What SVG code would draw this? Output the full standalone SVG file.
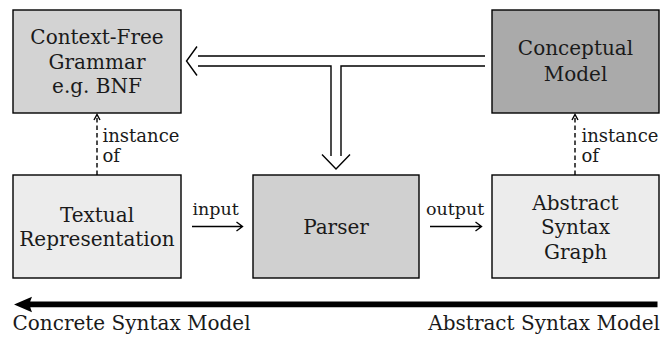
<svg xmlns="http://www.w3.org/2000/svg" width="672" height="337" viewBox="0 0 672 337">
<style>
.box{stroke:#000;stroke-width:1.4}
.t{font-family:"DejaVu Serif",serif;font-size:20px;text-anchor:middle;fill:#1a1a1a}
.s{font-family:"DejaVu Serif",serif;font-size:18px;fill:#1a1a1a}
.ln{fill:none;stroke:#000;stroke-width:1.4}
.dash{fill:none;stroke:#000;stroke-width:1.4;stroke-dasharray:4.5 3}
</style>
<rect width="672" height="337" fill="#fff"/>
<g id="cfg"><rect class="box" x="13" y="10" width="168" height="103" fill="#d3d3d3"/>
<text class="t" x="97" y="44">Context-Free</text><text class="t" x="97" y="68.5">Grammar</text><text class="t" x="97" y="93">e.g. BNF</text></g>
<g id="conceptual"><rect class="box" x="492" y="10" width="167" height="103" fill="#aaaaaa"/>
<text class="t" x="575.5" y="55">Conceptual</text><text class="t" x="575.5" y="80.5">Model</text></g>
<g id="textual"><rect class="box" x="13" y="175" width="168" height="103" fill="#ececec"/>
<text class="t" x="97" y="221.5">Textual</text><text class="t" x="97" y="246">Representation</text></g>
<g id="parser"><rect class="box" x="253" y="175" width="166" height="103" fill="#d0d0d0"/>
<text class="t" x="336" y="234">Parser</text></g>
<g id="asg"><rect class="box" x="492" y="175" width="167" height="103" fill="#ececec"/>
<text class="t" x="575.5" y="209.5">Abstract</text><text class="t" x="575.5" y="234">Syntax</text><text class="t" x="575.5" y="259">Graph</text></g>
<g id="connectors">
<path class="ln" d="M198 56H485M198 66H331V156M341 156V66H485"/>
<path class="ln" d="M197 46.5L186.5 61L197 75.5"/>
<path class="ln" d="M322 154.5L336 169L350 154.5"/>
<path class="dash" d="M97 175V116"/><path class="ln" d="M94 120L97 114.5L100 120"/>
<text class="s" x="102.5" y="141.5">instance</text><text class="s" x="102.5" y="162">of</text>
<path class="dash" d="M575 175V116"/><path class="ln" d="M572 120L575 114.5L578 120"/>
<text class="s" x="581.5" y="141.5">instance</text><text class="s" x="581.5" y="162">of</text>
<path class="ln" d="M192 226.5H242M236.5 222L242.5 226.5L236.5 231"/>
<text class="s" x="192.5" y="215" style="font-size:17.5px">input</text>
<path class="ln" d="M430 226.5H481M475.5 222L481.5 226.5L475.5 231"/>
<text class="s" x="426" y="215" style="font-size:17.5px">output</text>
<path d="M657.5 301.5V307.3H28V301.5Z" fill="#000"/>
<path d="M14 304.4L32 296.7Q28 304.4 32 312.3Z" fill="#000"/>
<text class="s" x="12.5" y="330" style="font-size:20px">Concrete Syntax Model</text>
<text class="s" x="660" y="330" style="font-size:20px;text-anchor:end">Abstract Syntax Model</text>
</g>
</svg>
